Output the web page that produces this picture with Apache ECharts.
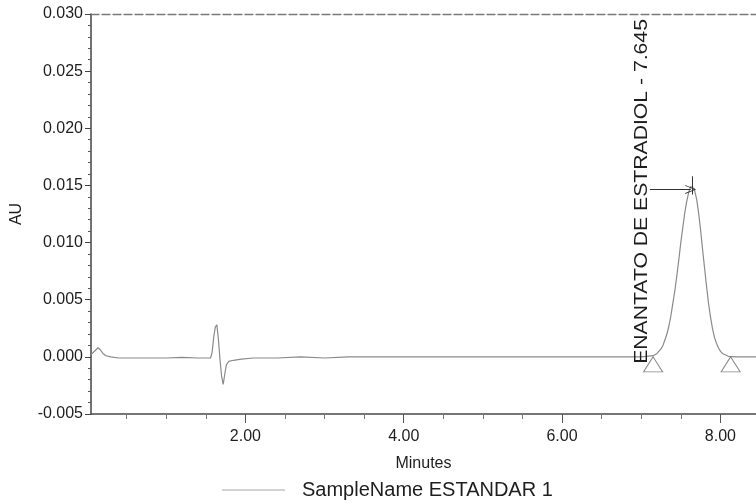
<!DOCTYPE html>
<html>
<head>
<meta charset="utf-8">
<script src="https://cdn.jsdelivr.net/npm/echarts@6/dist/echarts.min.js"></script>
<style>
  html, body { margin: 0; padding: 0; background: #fff; }
  #chart { width: 756px; height: 504px; }
</style>
</head>
<body>
<div id="chart"></div>
<script>
// Chromatogram trace: [minutes, AU]
const traceName = 'SampleName ESTANDAR 1';
const trace = [
  [0.05, 0.0002], [0.08, 0.0004], [0.11, 0.0006], [0.14, 0.0008], [0.17, 0.0006],
  [0.20, 0.0003], [0.24, 0.0001], [0.30, 0.0000], [0.40, -0.0001], [0.60, -0.0001],
  [0.80, -0.0001], [1.00, -0.0001], [1.20, -0.00005], [1.40, -0.0001], [1.56, -0.0001],
  [1.58, 0.0004], [1.60, 0.0017], [1.62, 0.0026], [1.64, 0.0028], [1.66, 0.0015],
  [1.68, -0.0003], [1.70, -0.0017], [1.72, -0.0024], [1.74, -0.0015], [1.76, -0.0007],
  [1.79, -0.0004], [1.85, -0.0003], [1.95, -0.0002], [2.10, -0.0001], [2.40, -0.0001],
  [2.70, 0.0000], [3.00, -0.0001], [3.30, 0.0000], [3.60, 0.0000], [4.00, 0.0000],
  [4.50, 0.0000], [5.00, 0.0000], [5.50, 0.0000], [6.00, 0.0000], [6.50, 0.0000],
  [7.00, 0.0000], [7.15, 0.0001], [7.20, 0.0003], [7.25, 0.0007], [7.275, 0.0010],
  [7.30, 0.0015], [7.325, 0.0020], [7.35, 0.0027], [7.375, 0.0036], [7.40, 0.0047],
  [7.425, 0.0058], [7.45, 0.0071], [7.475, 0.0085], [7.50, 0.0100], [7.525, 0.0113],
  [7.55, 0.0126], [7.575, 0.0136], [7.60, 0.0144], [7.625, 0.0149], [7.645, 0.0150],
  [7.67, 0.0147], [7.70, 0.0138], [7.725, 0.0126], [7.75, 0.0111], [7.775, 0.0094],
  [7.80, 0.0078], [7.825, 0.0062], [7.85, 0.0047], [7.875, 0.0035], [7.90, 0.0025],
  [7.925, 0.0017], [7.95, 0.0012], [7.975, 0.0008], [8.00, 0.0005], [8.025, 0.0003],
  [8.05, 0.0002], [8.10, 0.00005], [8.20, 0.0000], [8.45, 0.0000]
];

// Peak annotation
const peakName = 'ENANTATO DE ESTRADIOL';
const peakTime = 7.645;
const peakHeight = 0.0150;
// Integration start / end marks on the baseline
const baselineMarks = [[7.15, 0], [8.13, 0]];

// Axis ranges and tick positions
const xMin = 0.05, xMax = 8.45;
const xMajorTicks = [2, 4, 6, 8];
const xMinorTicks = [0.5, 1, 1.5, 2.5, 3, 3.5, 4.5, 5, 5.5, 6.5, 7, 7.5];
const yMin = -0.005, yMax = 0.030, yStep = 0.005;

const FONT = '"Liberation Sans", Arial, Helvetica, sans-serif';
const TEXT = '#1e1e1e';

const chart = echarts.init(document.getElementById('chart'), null, { renderer: 'canvas' });

chart.setOption({
  animation: false,
  backgroundColor: '#ffffff',
  textStyle: { fontFamily: FONT },
  grid: { left: 91, right: 0, top: 14, bottom: 90, containLabel: false },
  legend: {
    left: 222, top: 479, padding: 0,
    itemWidth: 63, itemHeight: 1,
    data: [{ name: traceName, icon: 'rect', itemStyle: { color: '#a8a8a8' } }],
    textStyle: { fontFamily: FONT, fontSize: 20, color: TEXT, lineHeight: 22, padding: [0, 0, 0, 12] }
  },
  xAxis: [
    {
      type: 'value', min: xMin, max: xMax, position: 'bottom',
      name: 'Minutes', nameLocation: 'middle', nameGap: 42,
      nameTextStyle: { fontFamily: FONT, fontSize: 16, color: TEXT },
      axisLine: { show: true, onZero: false, lineStyle: { color: '#4a4a4a', width: 1.5 } },
      axisTick: { show: true, length: 9, customValues: xMajorTicks, lineStyle: { color: '#555' } },
      axisLabel: {
        customValues: xMajorTicks, margin: 15, fontSize: 16, color: TEXT, fontFamily: FONT,
        formatter: v => v.toFixed(2)
      },
      splitLine: { show: false }
    },
    {
      type: 'value', min: xMin, max: xMax, position: 'bottom',
      axisLine: { show: false, onZero: false },
      axisTick: { show: true, length: 5, customValues: xMinorTicks, lineStyle: { color: '#777' } },
      axisLabel: { show: false },
      splitLine: { show: false }
    },
    {
      type: 'value', min: xMin, max: xMax, position: 'top',
      axisLine: { show: true, onZero: false, lineStyle: { color: '#7a7a7a', width: 1.3, type: [8, 3] } },
      axisTick: { show: false },
      axisLabel: { show: false },
      splitLine: { show: false }
    }
  ],
  yAxis: {
    type: 'value', min: yMin, max: yMax, interval: yStep,
    name: 'AU', nameLocation: 'middle', nameGap: 66,
    nameTextStyle: { fontFamily: FONT, fontSize: 16, color: TEXT },
    axisLine: { show: true, lineStyle: { color: '#444', width: 1.5 } },
    axisTick: { show: true, length: 6, lineStyle: { color: '#444' } },
    minorTick: { show: true, splitNumber: 5, length: 3, lineStyle: { color: '#555' } },
    axisLabel: { margin: 8, fontSize: 16, color: TEXT, fontFamily: FONT, formatter: v => v.toFixed(3) },
    splitLine: { show: false }
  },
  series: [
    {
      name: traceName,
      type: 'line',
      xAxisIndex: 0,
      data: trace,
      showSymbol: false,
      symbol: 'none',
      lineStyle: { color: '#8a8a8a', width: 1.2 },
      z: 3,
      markLine: {
        silent: true,
        animation: false,
        label: { show: false },
        data: [
          // arrow pointing to the apex
          [
            { coord: [7.11, 0.01465], symbol: 'none' },
            { coord: [7.625, 0.01465], symbol: 'path://M0,10 L5,0 L10,10 L9,10 L5,2 L1,10 Z', symbolSize: [9, 11] }
          ],
          // retention time tick through the apex
          [
            { coord: [peakTime, peakHeight + 0.0008], symbol: 'none' },
            { coord: [peakTime, peakHeight - 0.0008], symbol: 'none' }
          ]
        ],
        lineStyle: { color: '#333', width: 1, type: 'solid' }
      }
    },
    {
      name: 'baseline',
      type: 'scatter',
      xAxisIndex: 0,
      data: baselineMarks,
      symbol: 'triangle',
      symbolSize: [19, 15],
      symbolOffset: [0, '50%'],
      itemStyle: { color: 'rgba(255,255,255,0)', borderColor: '#6a6a6a', borderWidth: 1 },
      z: 4
    }
  ]
});

// Peak label, written upward beside the peak
const anchor = chart.convertToPixel({ xAxisIndex: 0, yAxisIndex: 0 }, [peakTime, 0]);
chart.setOption({
  graphic: [{
    type: 'text',
    x: anchor[0] - 50,
    y: anchor[1] + 7,
    rotation: Math.PI / 2,
    scaleX: 1.21,
    style: {
      text: peakName + ' - ' + peakTime.toFixed(3),
      fontFamily: FONT,
      fontSize: 17.5,
      fill: TEXT,
      textAlign: 'left',
      textVerticalAlign: 'middle'
    },
    z: 10
  }]
});
</script>
</body>
</html>
